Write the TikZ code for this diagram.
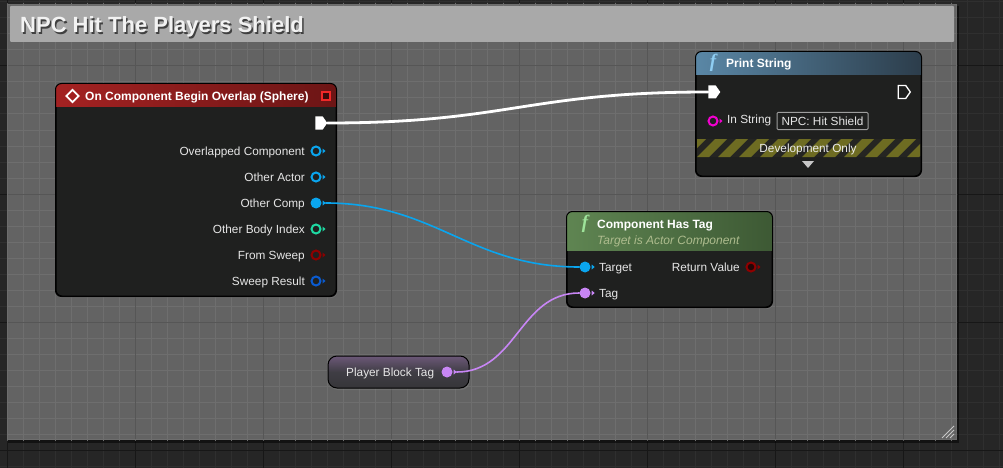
\documentclass[tikz,border=0pt]{standalone}
\usepackage{fontspec}
\setmainfont{Liberation Sans}
\newfontfamily\funcfont{Liberation Serif}
\usetikzlibrary{shapes.symbols,shapes.geometric,shadows}

\definecolor{canvasbg}{HTML}{262626}
\definecolor{gridminor}{HTML}{2F2F2F}
\definecolor{gridmajor}{HTML}{171717}
\definecolor{boxfill}{HTML}{636363}
\definecolor{boxminor}{HTML}{6E6E6E}
\definecolor{boxmajor}{HTML}{565656}
\definecolor{boxedge}{HTML}{6D6D6D}
\definecolor{boxtitle}{HTML}{A9A9A9}
\definecolor{nodebody}{HTML}{1F201F}
\definecolor{labeltext}{HTML}{E6E6E6}
\definecolor{evredL}{HTML}{A42222}
\definecolor{evredR}{HTML}{6C1515}
\definecolor{evbright}{HTML}{F02828}
\definecolor{evdark}{HTML}{3A0A0A}
\definecolor{printL}{HTML}{5A87A6}
\definecolor{printR}{HTML}{2C3D4B}
\definecolor{tagL}{HTML}{5F8552}
\definecolor{tagR}{HTML}{3D5934}
\definecolor{funcblue}{HTML}{8ECDF2}
\definecolor{funcgreen}{HTML}{9EE39A}
\definecolor{subtitle}{HTML}{AEBC8E}
\definecolor{objblue}{HTML}{0AA5EE}
\definecolor{intgreen}{HTML}{1ED9A2}
\definecolor{boolred}{HTML}{8E0000}
\definecolor{structblue}{HTML}{0A5BD0}
\definecolor{strmagenta}{HTML}{F200CF}
\definecolor{namelilac}{HTML}{C886F5}
\definecolor{stripe}{HTML}{6E6C22}
\definecolor{stripedark}{HTML}{252522}
\definecolor{tagtop}{HTML}{6C5878}
\definecolor{tagmid}{HTML}{3F3D44}
\definecolor{tagbottom}{HTML}{363539}

\tikzset{
  bpnode/.style={draw=black, line width=1pt, fill=nodebody, rounded corners=6pt, inner sep=0pt,
    drop shadow={shadow xshift=1pt, shadow yshift=-2pt, opacity=0.45}},
  nodetitle/.style={text=white, font=\bfseries\fontsize{12}{12}\selectfont, inner sep=0pt, text height=8.6pt, text depth=0pt},
  pinlabel/.style={text=labeltext, font=\fontsize{11.8}{12}\selectfont, inner sep=0pt, text height=8.5pt, text depth=0pt},
  boxtitlefont/.style={font=\bfseries\fontsize{22}{22}\selectfont, inner sep=0pt, text height=15.8pt, text depth=0pt},
  funcicon/.style={text=#1, font=\funcfont\bfseries\itshape\fontsize{19}{19}\selectfont, inner sep=0pt},
  pinhollow/.style={circle, draw=#1, line width=2pt, fill=nodebody, minimum size=9pt, inner sep=0pt},
  pinfull/.style={circle, fill=#1, minimum size=11pt, inner sep=0pt},
  execpin/.style={signal, signal to=east, signal pointer angle=110, minimum width=12pt, minimum height=13pt, inner sep=0pt},
  wire/.style={line width=1.6pt, line cap=round},
}

% small arrow tip beside a data pin
\newcommand{\pintip}[2]{\fill[#2] ([xshift=1pt,yshift=2.5pt]#1.east) -- ([xshift=4pt]#1.east) -- ([xshift=1pt,yshift=-2.5pt]#1.east) -- cycle;}
% coloured header of a node
\newcommand{\bpheader}[4]{%
  \begin{scope}
    \clip[rounded corners=6pt] (#1.north west) rectangle (#1.south east);
    \shade[left color=#3, right color=#4] (#1.north west) rectangle ([yshift=-#2]#1.north east);
  \end{scope}
  \draw[black, line width=1pt, rounded corners=6pt] (#1.north west) rectangle (#1.south east);}

\begin{document}
\begin{tikzpicture}[x=1pt, y=-1pt]
\useasboundingbox (0,0) rectangle (1003,468);

% Canvas with grid
\fill[canvasbg] (0,0) rectangle (1003,468);
\foreach \gx in {7,23,...,999} \draw[gridminor, line width=1pt] (\gx,0) -- (\gx,468);
\foreach \gy in {2,18,...,466} \draw[gridminor, line width=1pt] (0,\gy) -- (1003,\gy);
\foreach \gx in {7,135,...,903} \draw[gridmajor, line width=1pt] (\gx,0) -- (\gx,468);
\foreach \gy in {66,194,322,450} \draw[gridmajor, line width=1pt] (0,\gy) -- (1003,\gy);

% Comment box
\fill[black, opacity=0.5] (8,6) rectangle (959,443); % box shadow
\fill[boxfill] (7,4) rectangle (957,440);
\begin{scope}
  \clip (7,4) rectangle (957,440);
  \foreach \gx in {7,23,...,999} \draw[boxminor, line width=1pt] (\gx,0) -- (\gx,468);
  \foreach \gy in {2,18,...,466} \draw[boxminor, line width=1pt] (0,\gy) -- (1003,\gy);
  \foreach \gx in {7,135,...,903} \draw[boxmajor, line width=1pt] (\gx,0) -- (\gx,468);
  \foreach \gy in {66,194,322} \draw[boxmajor, line width=1pt] (0,\gy) -- (1003,\gy);
\end{scope}
\draw[boxedge, line width=1pt] (7.5,4.5) rectangle (956.5,439.5);
\fill[boxtitle, rounded corners=1pt] (10,6) rectangle (954,42); % title bar
\node[boxtitlefont, anchor=west, text=black!75] (boxTitleShadow) at (21.5,26.5) {NPC Hit The Players Shield};
\node[boxtitlefont, anchor=west, text=white!95!black] (boxTitle) at (20,25) {NPC Hit The Players Shield};
\draw[white!78!black, line width=1pt] (954,426) -- (942,438); % resize grip
\draw[white!78!black, line width=1pt] (954,430) -- (946,438);
\draw[white!78!black, line width=1pt] (954,434) -- (950,438);

% Event node
\node[bpnode, minimum width=280, minimum height=212] (overlap) at (196,190) {};
\bpheader{overlap}{23pt}{evredL}{evredR}
\node[diamond, draw=white, line width=1.8pt, minimum size=13pt, inner sep=0pt] (overlapIcon) at (72.5,96) {};
\node[nodetitle, anchor=west] (overlapTitle) at (85,96) {On Component Begin Overlap (Sphere)};
\node[draw=evbright, fill=evdark, line width=2pt, minimum size=8pt, inner sep=0pt] (overlapStop) at (326,96) {};
\node[execpin, fill=white] (overlapExec) at (319,123) {};
\node[pinhollow=objblue] (overlapComp) at (316,151) {};
\node[pinhollow=objblue] (overlapActor) at (316,177) {};
\node[pinfull=objblue] (overlapOther) at (316,203) {};
\node[pinhollow=intgreen] (overlapIndex) at (316,229) {};
\node[pinhollow=boolred] (overlapSweep) at (316,255) {};
\node[pinhollow=structblue] (overlapResult) at (316,281) {};
\pintip{overlapComp}{objblue}
\pintip{overlapActor}{objblue}
\pintip{overlapOther}{objblue}
\pintip{overlapIndex}{intgreen}
\pintip{overlapSweep}{boolred}
\pintip{overlapResult}{structblue}
\node[pinlabel, anchor=east] (overlapCompLabel) at (305,151) {Overlapped Component};
\node[pinlabel, anchor=east] (overlapActorLabel) at (305,177) {Other Actor};
\node[pinlabel, anchor=east] (overlapOtherLabel) at (305,203) {Other Comp};
\node[pinlabel, anchor=east] (overlapIndexLabel) at (305,229) {Other Body Index};
\node[pinlabel, anchor=east] (overlapSweepLabel) at (305,255) {From Sweep};
\node[pinlabel, anchor=east] (overlapResultLabel) at (305,281) {Sweep Result};

% Print String node
\node[bpnode, minimum width=225, minimum height=124] (print) at (808.5,114) {};
\bpheader{print}{23pt}{printL}{printR}
\node[funcicon=funcblue] (printIcon) at (713,63) {f};
\node[nodetitle, anchor=west] (printTitle) at (726,63.5) {Print String};
\node[execpin, fill=white] (printExecIn) at (712,92) {};
\node[execpin, draw=white, line width=1.3pt, fill=nodebody] (printExecOut) at (902,92) {};
\node[pinhollow=strmagenta] (printIn) at (713,121) {};
\pintip{printIn}{strmagenta}
\node[pinlabel, anchor=west] (printInLabel) at (727,119.5) {In String};
\node[pinlabel, draw=white!62!black, line width=1pt, fill=nodebody, minimum width=91, minimum height=17, rounded corners=1pt] (printBox) at (822.5,121) {NPC: Hit Shield};
\begin{scope}
  \clip (697,139) rectangle (920,157);
  \fill[stripedark] (697,139) rectangle (920,157);
  \foreach \sx in {676,697,...,928} \fill[stripe] (\sx,157) -- (\sx+12,157) -- (\sx+30,139) -- (\sx+18,139) -- cycle;
\end{scope}
\node[pinlabel, text=white!92!black] (printDev) at (808,148) {Development Only};
\fill[white!78!black] (802,161) -- (814,161) -- (808,168) -- cycle; % expand arrow

% Component Has Tag node
\node[bpnode, minimum width=205, minimum height=95] (hasTag) at (669.5,259.5) {};
\bpheader{hasTag}{39pt}{tagL}{tagR}
\node[funcicon=funcgreen] (hasTagIcon) at (585,224) {f};
\node[nodetitle, anchor=west] (hasTagTitle) at (597,224) {Component Has Tag};
\node[pinlabel, anchor=west, text=subtitle, font=\itshape\fontsize{12}{12}\selectfont] (hasTagSub) at (597,240.5) {Target is Actor Component};
\node[pinfull=objblue] (hasTagTarget) at (585,267) {};
\node[pinfull=namelilac] (hasTagTag) at (585,293) {};
\node[pinhollow=boolred, fill=evdark!60!black] (hasTagReturn) at (751,267) {};
\pintip{hasTagTarget}{objblue}
\pintip{hasTagTag}{namelilac}
\pintip{hasTagReturn}{boolred}
\node[pinlabel, anchor=west] (hasTagTargetLabel) at (599,267) {Target};
\node[pinlabel, anchor=west] (hasTagTagLabel) at (599,293) {Tag};
\node[pinlabel, anchor=east] (hasTagReturnLabel) at (740,267) {Return Value};

% Player Block Tag variable
\node[draw=black, line width=1pt, rounded corners=9pt, top color=tagtop, bottom color=tagbottom, middle color=tagmid,
  minimum width=141, minimum height=32, inner sep=0pt, drop shadow={shadow xshift=1pt, shadow yshift=-2pt, opacity=0.45}] (blockTag) at (398.5,372) {};
\node[pinlabel, anchor=west] (blockTagLabel) at (346,372) {Player Block Tag};
\node[pinfull=namelilac] (blockTagPin) at (447,372) {};
\pintip{blockTagPin}{namelilac}

% Wires
\draw[wire, white, line width=2.8pt] (overlapExec.east) .. controls +(180,0) and +(-180,0) .. (printExecIn.west); % exec wire
\draw[wire, objblue] ([xshift=4pt]overlapOther.east) .. controls +(110,0) and +(-110,0) .. (hasTagTarget.west); % component wire
\draw[wire, namelilac] ([xshift=4pt]blockTagPin.east) .. controls +(60,0) and +(-60,0) .. (hasTagTag.west); % tag wire

\end{tikzpicture}
\end{document}
